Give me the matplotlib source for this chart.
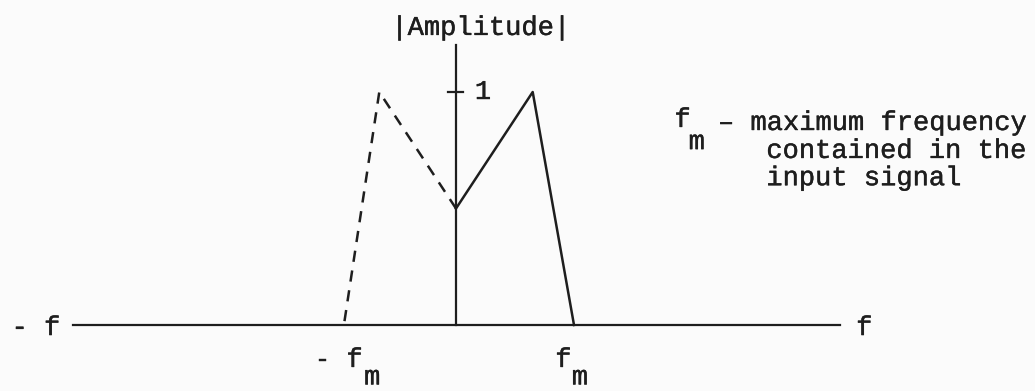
import matplotlib.pyplot as plt
import matplotlib.patheffects as pe

# spectrum (f in units of f_m, amplitude normalised)
f_pos = [0.0, 0.65, 1.0]
amp_pos = [0.5, 1.0, 0.0]
f_neg = [0.0, -0.65, -0.95]
amp_neg = [0.5, 1.0, 0.0]

axis_f = [-3.25, 3.25]
axis_amp_top = 1.2
tick_amp = 1.0

ink = "#1e1e1e"
mono = ["Liberation Mono", "DejaVu Sans Mono"]

fig = plt.figure(figsize=(10.35, 3.91), dpi=100)
fig.patch.set_facecolor("#fbfbfb")
ax = fig.add_axes([0, 0, 1, 1])
ax.set_facecolor("#fbfbfb")
ax.set_xlim(-456 / 118, (1035 - 456) / 118)
ax.set_ylim(-(391 - 325) / 233, 325 / 233)
ax.axis("off")

# axes of the sketch
ax.plot(axis_f, [0, 0], color=ink, lw=1.6)
ax.plot([0, 0], [0, axis_amp_top], color=ink, lw=1.6)
ax.plot([-0.07, 0.06], [tick_amp, tick_amp], color=ink, lw=1.6)

# positive-frequency spectrum (solid) and its mirror (dashed)
ax.plot(f_pos, amp_pos, color=ink, lw=1.8)
ax.plot(f_neg, amp_neg, color=ink, lw=1.8, dashes=(4.5, 3.5))

# typewriter look: glyphs only a little thickened
thick = [pe.withStroke(linewidth=0.3, foreground=ink)]
kw = dict(family=mono, color=ink, fontsize=19.5, path_effects=thick)
ax.text(0.21, 1.275, "|Amplitude|", ha="center", va="center", **kw)
ax.text(0.16, 1.0, "1", ha="left", va="center", **kw)
ax.text(-3.56, -0.013, "- f", ha="center", va="center", **kw)
ax.text(3.46, -0.013, "f", ha="center", va="center", **kw)

# -f_m and f_m on the frequency axis
ax.text(-1.13, -0.15, "-", ha="center", va="center", **kw)
ax.text(-0.86, -0.15, "f", ha="center", va="center", **kw)
ax.text(-0.71, -0.225, "m", ha="center", va="center", **kw)
ax.text(0.91, -0.15, "f", ha="center", va="center", **kw)
ax.text(1.05, -0.225, "m", ha="center", va="center", **kw)

# note on the right
ax.text(1.92, 0.88, "f", ha="center", va="center", **kw)
ax.text(2.04, 0.785, "m", ha="center", va="center", **kw)
ax.text(2.22, 0.867, "\u2013 maximum frequency", ha="left", va="center", **kw)
ax.text(2.63, 0.747, "contained in the", ha="left", va="center", **kw)
ax.text(2.63, 0.63, "input signal", ha="left", va="center", **kw)

fig.savefig("out.png", dpi=100, facecolor=fig.get_facecolor())
